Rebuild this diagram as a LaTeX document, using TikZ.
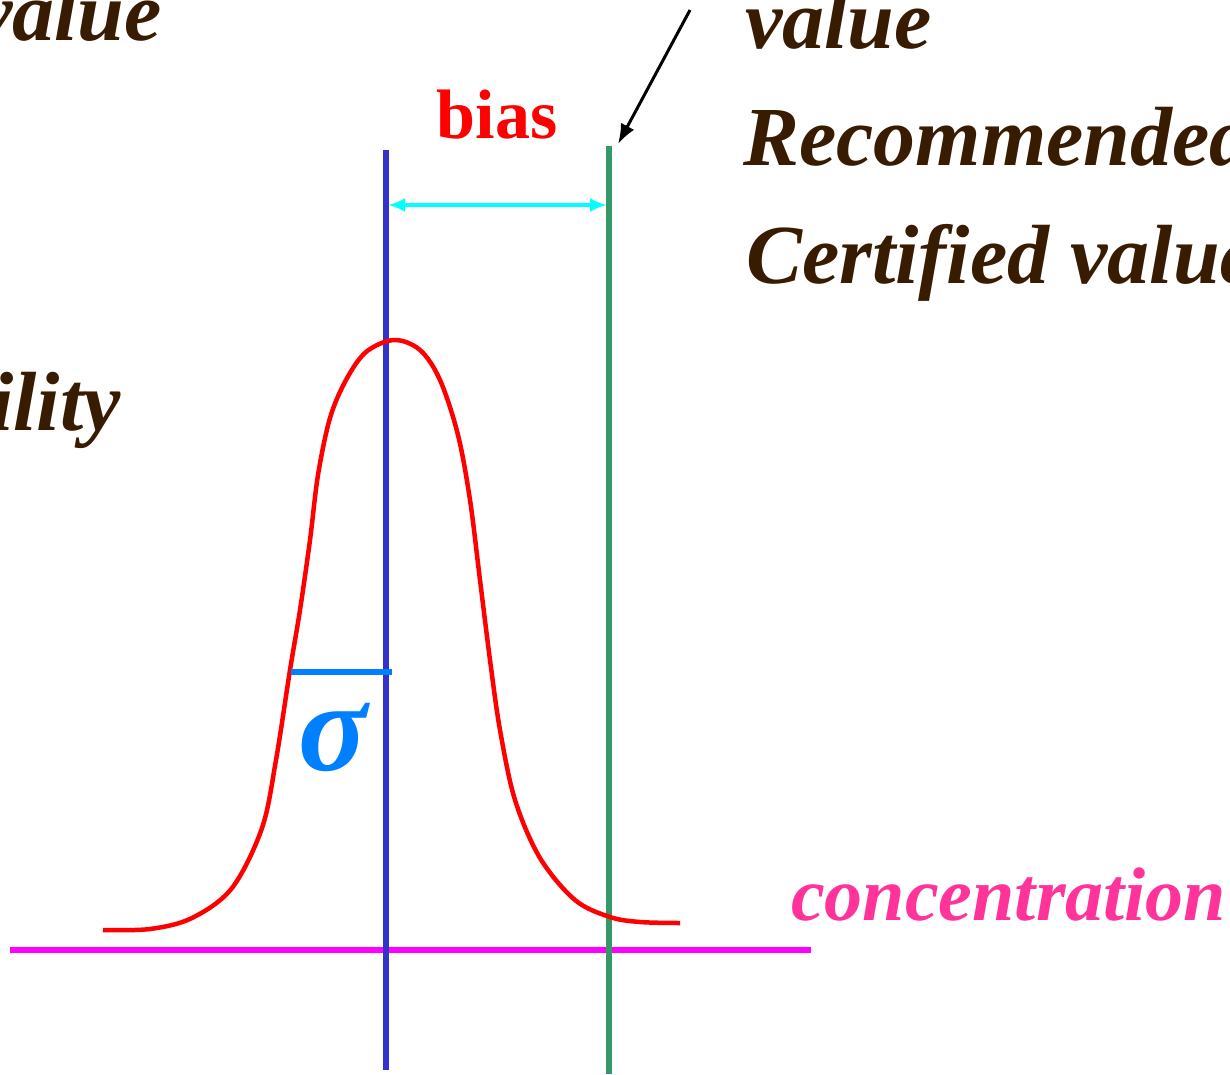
\documentclass[tikz,border=0pt]{standalone}
\usepackage{fontspec}
\setmainfont{Liberation Serif}
\usetikzlibrary{arrows.meta,positioning}
\definecolor{txtbrown}{RGB}{56,28,2}
\definecolor{meanblue}{RGB}{51,51,204}
\definecolor{refgreen}{RGB}{51,153,102}
\definecolor{sigblue}{RGB}{0,128,255}
\definecolor{concpink}{RGB}{255,51,153}
\definecolor{axmag}{RGB}{255,0,255}
\definecolor{biascyan}{RGB}{0,255,255}
\tikzset{
  lbl/.style ={inner sep=0pt,text=txtbrown,font=\fontsize{84}{96}\selectfont\bfseries\itshape},
  vline/.style={draw,line width=5.5pt},
  bias/.style ={draw=biascyan,line width=4.5pt,{Latex[length=17pt,width=14pt]}-{Latex[length=17pt,width=14pt]}},
  curve/.style={draw=red,line width=4.5pt,line join=round},
}
\begin{document}
\begin{tikzpicture}[x=1pt,y=-1pt]
  \useasboundingbox (0,0) rectangle (1230,1074);
  \clip (0,0) rectangle (1230,1074);
  % labels
  \node[lbl,anchor=base east] (tlval) at (162,40) {value};
  \node[lbl,anchor=base east] (prob) at (121,430) {Probability};
  \node[lbl,anchor=base west] (trval) at (745,48) {value};
  \node[lbl,anchor=base west] (recval) at (743,165) {Recommended};
  \node[lbl,anchor=base west] (certval) at (746,283) {Certified value};
  \node[inner sep=0pt,anchor=base,text=red,font=\fontsize{70}{80}\selectfont\bfseries] (biaslbl) at (497,138) {bias};
  \node[inner sep=0pt,text=sigblue,font=\fontsize{128}{140}\selectfont\bfseries\itshape] (sig) at (333,737) {σ};
  \node[inner sep=0pt,anchor=base west,text=concpink,font=\fontsize{76}{86}\selectfont\bfseries\itshape] (conc) at (791,920) {concentration};
  % axis and reference lines
  \coordinate (axl) at (10,950);
  \coordinate (axr) at (811,950);
  \coordinate (mtop) at (386,150);
  \coordinate (mbot) at (386,1070);
  \coordinate (gtop) at (609,146);
  \coordinate (gbot) at (609,1074);
  \draw[vline,axmag] (axl) -- (axr);
  \draw[vline,meanblue] (mtop) -- (mbot);
  \draw[vline,refgreen] (gtop) -- (gbot);
  % bias arrow
  \coordinate (ba) at (386,205);
  \coordinate (bb) at (609,205);
  \draw[bias] ([xshift=2pt]ba) -- ([xshift=-2pt]bb);
  % pointer
  \coordinate (ptail) at (690,10);
  \coordinate (phead) at (618,144);
  \draw[line width=3pt,-{Latex[length=20pt,width=15pt]}] (ptail) -- (phead);
  % distribution
  \draw[curve] plot[smooth,tension=0.55] coordinates {
    (103,930) (150,929) (192,918) (232,888) (262,828) (276,760)
    (290,670) (300,610) (310,540) (318,475) (330,418) (346,380)
    (366,352) (394,340) (420,350) (440,380) (458,435) (470,500)
    (480,580) (490,660) (500,730) (515,800) (540,858) (575,900)
    (610,917) (640,922) (680,923)};
  % sigma bar
  \coordinate (sl) at (291,672);
  \coordinate (sr) at (392,672);
  \draw[draw=sigblue,line width=5.5pt] (sl) -- (sr);
\end{tikzpicture}
\end{document}
